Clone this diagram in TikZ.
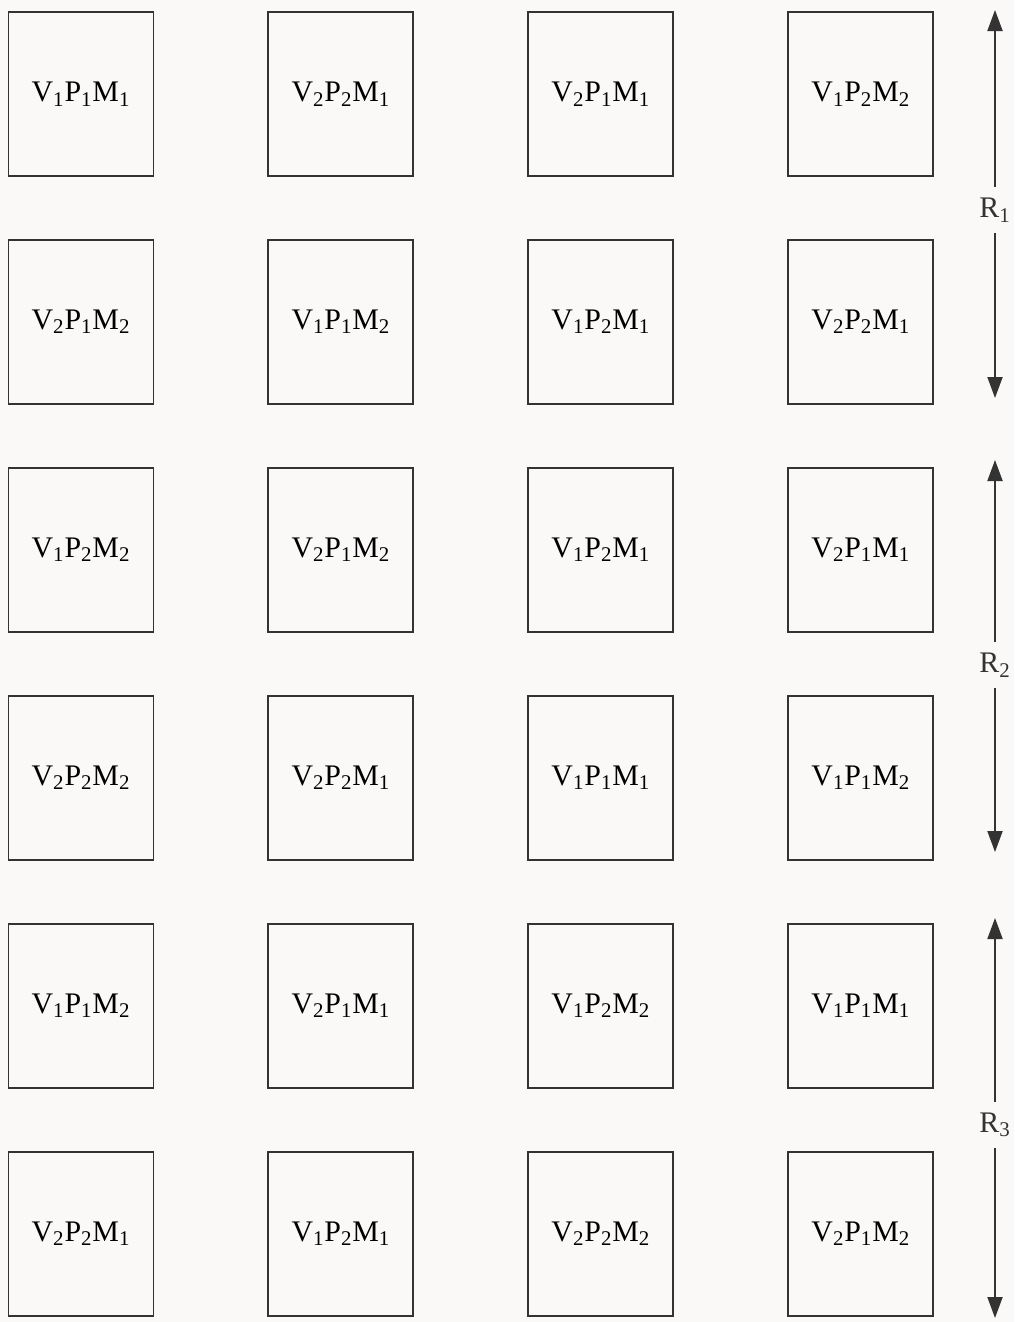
\documentclass[tikz,border=0pt]{standalone}
\usepackage{fontspec}
\setmainfont{Liberation Serif}
\usetikzlibrary{positioning,arrows.meta}
\definecolor{plotline}{HTML}{333333}
\definecolor{paper}{HTML}{FBF8F8}
\newcommand{\trt}[3]{V\textsubscript{#1}P\textsubscript{#2}M\textsubscript{#3}}
\tikzset{
	plotbox/.style={
		draw=plotline,
		line width=1.1pt,
		minimum width=2.9cm,
		minimum height=3.28cm,
		inner sep=0pt,
		font=\fontsize{17}{20}\selectfont
	},
	repLabel/.style={
		text=plotline,
		inner sep=6pt,
		font=\fontsize{17}{20}\selectfont
	},
	repArrow/.style={-{Triangle[width=0.3cm,length=0.42cm]}, line width=1.1pt, draw=plotline}
}

\begin{document}
\begin{tikzpicture}[node distance=1.24cm and 2.26cm]
			\useasboundingbox[fill=paper] (0,0) rectangle (20.28,-26.44);

			% Replication 1
			\node[plotbox] (p11) at (1.62,-1.88) {\trt{1}{1}{1}};
			\node[plotbox, right=of p11] (p12) {\trt{2}{2}{1}};
			\node[plotbox, right=of p12] (p13) {\trt{2}{1}{1}};
			\node[plotbox, right=of p13] (p14) {\trt{1}{2}{2}};

			\node[plotbox, below=of p11] (p21) {\trt{2}{1}{2}};
			\node[plotbox, right=of p21] (p22) {\trt{1}{1}{2}};
			\node[plotbox, right=of p22] (p23) {\trt{1}{2}{1}};
			\node[plotbox, right=of p23] (p24) {\trt{2}{2}{1}};

			% Replication 2
			\node[plotbox, below=of p21] (p31) {\trt{1}{2}{2}};
			\node[plotbox, right=of p31] (p32) {\trt{2}{1}{2}};
			\node[plotbox, right=of p32] (p33) {\trt{1}{2}{1}};
			\node[plotbox, right=of p33] (p34) {\trt{2}{1}{1}};

			\node[plotbox, below=of p31] (p41) {\trt{2}{2}{2}};
			\node[plotbox, right=of p41] (p42) {\trt{2}{2}{1}};
			\node[plotbox, right=of p42] (p43) {\trt{1}{1}{1}};
			\node[plotbox, right=of p43] (p44) {\trt{1}{1}{2}};

			% Replication 3
			\node[plotbox, below=of p41] (p51) {\trt{1}{1}{2}};
			\node[plotbox, right=of p51] (p52) {\trt{2}{1}{1}};
			\node[plotbox, right=of p52] (p53) {\trt{1}{2}{2}};
			\node[plotbox, right=of p53] (p54) {\trt{1}{1}{1}};

			\node[plotbox, below=of p51] (p61) {\trt{2}{2}{1}};
			\node[plotbox, right=of p61] (p62) {\trt{1}{2}{1}};
			\node[plotbox, right=of p62] (p63) {\trt{2}{2}{2}};
			\node[plotbox, right=of p63] (p64) {\trt{2}{1}{2}};

			% Replication markers
			\node[repLabel] (rep1) at (19.9,-4.2) {R\textsubscript{1}};
			\coordinate (rep1top) at (19.9,-0.2);
			\coordinate (rep1bot) at (19.9,-7.96);
			\node[repLabel] (rep2) at (19.9,-13.3) {R\textsubscript{2}};
			\coordinate (rep2top) at (19.9,-9.2);
			\coordinate (rep2bot) at (19.9,-17.04);
			\node[repLabel] (rep3) at (19.9,-22.5) {R\textsubscript{3}};
			\coordinate (rep3top) at (19.9,-18.36);
			\coordinate (rep3bot) at (19.9,-26.36);

			\draw[repArrow] (rep1) -- (rep1top);
			\draw[repArrow] (rep1) -- (rep1bot);
			\draw[repArrow] (rep2) -- (rep2top);
			\draw[repArrow] (rep2) -- (rep2bot);
			\draw[repArrow] (rep3) -- (rep3top);
			\draw[repArrow] (rep3) -- (rep3bot);

		\end{tikzpicture}
\end{document}
